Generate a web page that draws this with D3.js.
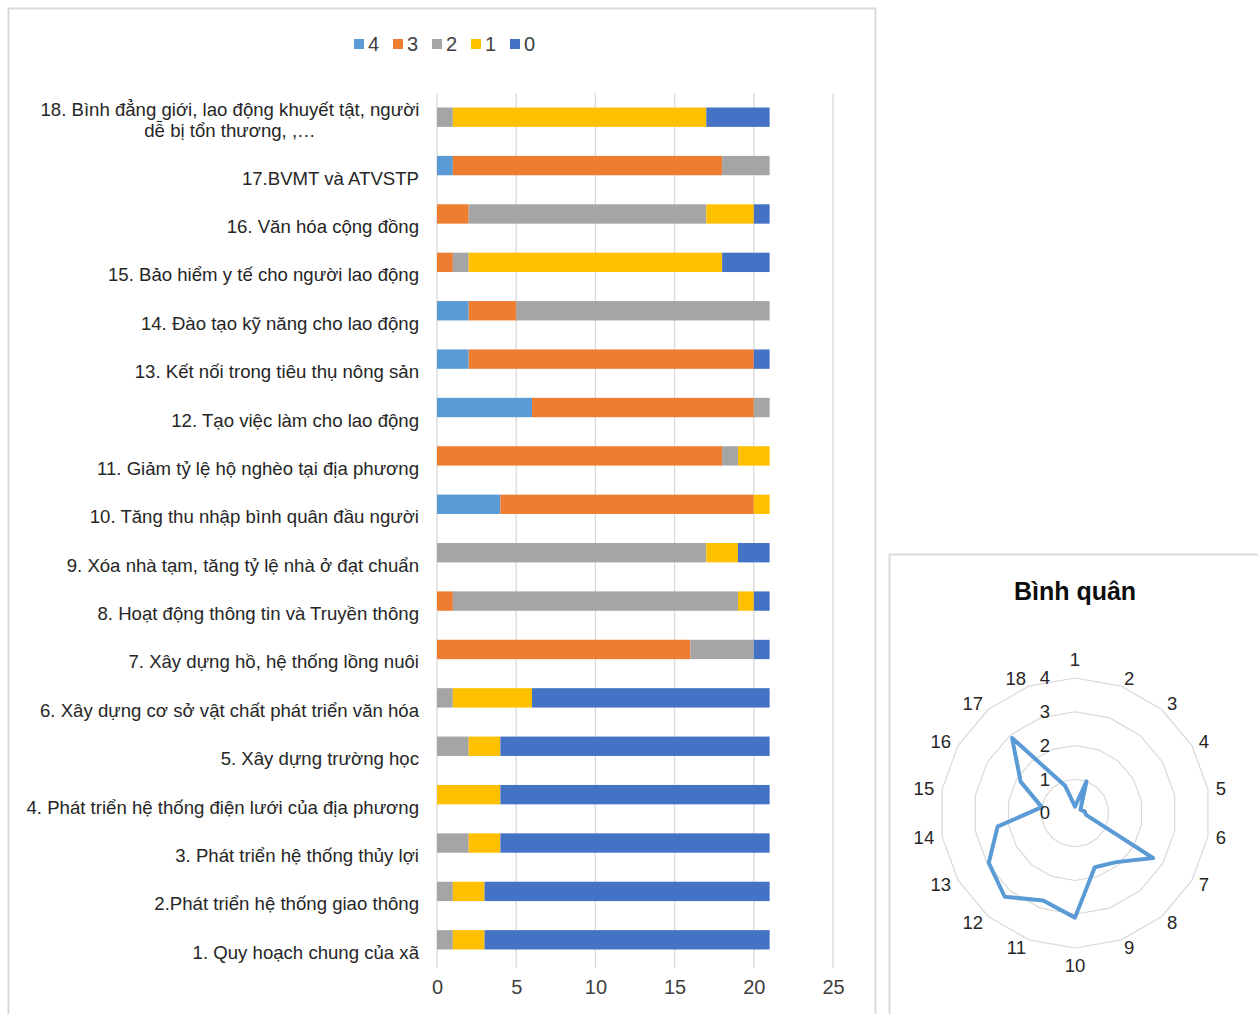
<!DOCTYPE html>
<html><head><meta charset="utf-8">
<script src="https://cdn.jsdelivr.net/npm/d3@7"></script>
<style>body{margin:0;background:#fff;font-family:"Liberation Sans",Arial,sans-serif}</style>
</head><body><svg id="c" width="1258" height="1014"></svg>
<script>
const categories = [
 "1. Quy hoạch chung của xã",
 "2.Phát triển hệ thống giao thông",
 "3. Phát triển hệ thống thủy lợi",
 "4. Phát triển hệ thống điện lưới của địa phương",
 "5. Xây dựng trường học",
 "6. Xây dựng cơ sở vật chất phát triển văn hóa",
 "7. Xây dựng hồ, hệ thống lồng nuôi",
 "8. Hoạt động thông tin và Truyền thông",
 "9. Xóa nhà tạm, tăng tỷ lệ nhà ở đạt chuẩn",
 "10. Tăng thu nhập bình quân đầu người",
 "11.  Giảm tỷ lệ hộ nghèo tại địa phương",
 "12. Tạo việc làm cho lao động",
 "13. Kết nối trong tiêu thụ nông sản",
 "14. Đào tạo kỹ năng cho lao động",
 "15. Bảo hiểm y tế cho người lao động",
 "16. Văn hóa cộng đồng",
 "17.BVMT và ATVSTP",
 "18. Bình đẳng giới, lao động khuyết tật, người|dễ bị tổn thương, ,…"
];
const seriesNames = ["4","3","2","1","0"];
const s4 = [0,0,0,0,0,0,0,0,0,4,0,6,2,2,0,0,1,0];
const s3 = [0,0,0,0,0,0,16,1,0,16,18,14,18,3,1,2,17,0];
const s2 = [1,1,2,0,2,1,4,18,17,0,1,1,0,16,1,15,3,1];
const s1 = [2,2,2,4,2,5,0,1,2,1,2,0,0,0,16,3,0,16];
const s0 = [18,18,17,17,17,15,1,1,2,0,0,0,1,0,3,1,0,4];
const xTicks = [0,5,10,15,20,25];
const radarLabels = ["1","2","3","4","5","6","7","8","9","10","11","12","13","14","15","16","17","18"];
const radarValues = [0.19,1.0,0.29,0.19,0.29,0.33,2.67,1.9,1.71,3.1,2.76,3.24,2.95,2.33,1.0,1.86,2.9,0.86];
const radarTicks = [0,1,2,3,4];
const colors = ["#5B9BD5","#ED7D31","#A5A5A5","#FFC000","#4472C4"];

const svg = d3.select("#c");
const font = '"Liberation Sans",Arial,sans-serif';

// frames
svg.append("rect").attr("x",8.5).attr("y",8.5).attr("width",867).attr("height",1020)
  .attr("fill","#fff").attr("stroke","#d9d9d9").attr("stroke-width",2);
svg.append("rect").attr("x",889.5).attr("y",554.5).attr("width",380).attr("height",470)
  .attr("fill","#fff").attr("stroke","#d9d9d9").attr("stroke-width",2);

// ---- bar chart
const rows = categories.map((c,i)=>({cat:c, "4":s4[i],"3":s3[i],"2":s2[i],"1":s1[i],"0":s0[i]}));
const x = d3.scaleLinear().domain([0,25]).range([437,833]);
const y = d3.scaleBand().domain(categories.slice().reverse()).range([93,964]).paddingInner(0.6).paddingOuter(0.3);
const stack = d3.stack().keys(seriesNames)(rows);

svg.append("g").selectAll("line").data(xTicks).join("line")
  .attr("x1",d=>x(d)).attr("x2",d=>x(d)).attr("y1",93).attr("y2",968)
  .attr("stroke","#d9d9d9").attr("stroke-width",1.3);

svg.append("g").selectAll("g").data(stack).join("g")
  .attr("fill",(d,i)=>colors[i])
  .selectAll("rect").data(d=>d).join("rect")
  .attr("x",d=>x(d[0])).attr("width",d=>x(d[1])-x(d[0]))
  .attr("y",d=>y(d.data.cat)).attr("height",y.bandwidth());

const xAxis = d3.axisBottom(x).tickValues(xTicks).tickSize(0).tickPadding(0);
const gx = svg.append("g").attr("transform","translate(0,968)").call(xAxis);
gx.select(".domain").remove();
gx.selectAll("text").attr("font-size",20).attr("font-family",font).attr("fill","#404040").attr("dy","1.3em");

const yl = svg.append("g");
categories.forEach(c=>{
  const cy = y(c)+y.bandwidth()/2;
  const parts = c.split("|");
  if(parts.length===1){
    yl.append("text").attr("x",419).attr("y",cy+19).attr("text-anchor","end")
      .attr("font-size",18.6).attr("font-family",font).attr("fill","#262626").text(c);
  } else {
    parts.forEach((p,k)=>{
      yl.append("text").attr("x",230).attr("y",cy-1+k*21).attr("text-anchor","middle")
        .attr("font-size",18.6).attr("font-family",font).attr("fill","#262626").text(p);
    });
  }
});

// legend
const legX = [354,393,432,471,510];
const lg = svg.append("g");
seriesNames.forEach((s,i)=>{
  lg.append("rect").attr("x",legX[i]).attr("y",39).attr("width",10).attr("height",10).attr("fill",colors[i]);
  lg.append("text").attr("x",legX[i]+14).attr("y",51).attr("font-size",20).attr("font-family",font)
    .attr("fill","#404040").text(s);
});

// ---- radar
const cx = 1075, cy = 813;
const r = d3.scaleLinear().domain([0,4]).range([0,135]);
const ang = d3.scalePoint().domain(radarLabels).range([0, 2*Math.PI*17/18]);
const rg = svg.append("g");
radarTicks.slice(1).forEach(t=>{
  const pts = radarLabels.map(l=>[cx+r(t)*Math.sin(ang(l)), cy-r(t)*Math.cos(ang(l))]);
  rg.append("polygon").attr("points",pts.map(p=>p.join(",")).join(" "))
    .attr("fill","none").attr("stroke","#d9d9d9").attr("stroke-width",1.2);
});
const line = d3.lineRadial().angle((d,i)=>ang(radarLabels[i])).radius(d=>r(d)).curve(d3.curveLinearClosed);
rg.append("path").attr("d",line(radarValues)).attr("transform",`translate(${cx},${cy})`)
  .attr("fill","none").attr("stroke","#5B9BD5").attr("stroke-width",4).attr("stroke-linejoin","round");
radarTicks.forEach(t=>{
  rg.append("text").attr("x",cx-30).attr("y",cy-r(t)).attr("dy","0.35em").attr("text-anchor","middle")
    .attr("font-size",18.5).attr("font-family",font).attr("fill","#262626").text(t);
});
radarLabels.forEach(l=>{
  const a = ang(l), rr = 143, s = Math.sin(a), c = Math.cos(a);
  const anchor = s > 0.1 ? "start" : (s < -0.1 ? "end" : "middle");
  const yo = Math.abs(s) < 0.1 ? -c*10 : 0;
  rg.append("text").attr("x",cx+rr*s).attr("y",cy-rr*c+yo).attr("dy","0.35em").attr("text-anchor",anchor)
    .attr("font-size",18.5).attr("font-family",font).attr("fill","#262626").text(l);
});
svg.append("text").attr("x",cx).attr("y",600).attr("text-anchor","middle").attr("font-size",25)
  .attr("font-weight","bold").attr("font-family",font).attr("fill","#0d0d0d").text("Bình quân");
</script></body></html>
